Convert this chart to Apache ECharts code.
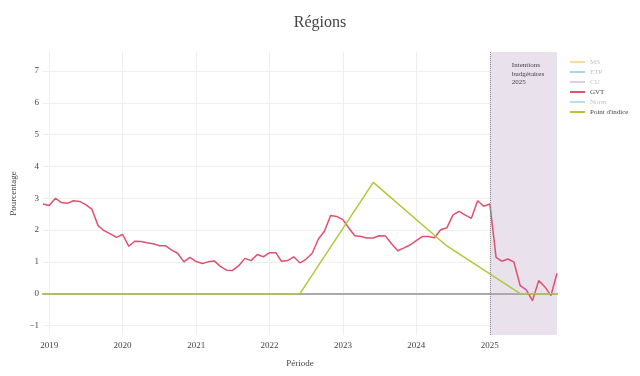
<!DOCTYPE html>
<html lang="fr">
<head>
<meta charset="UTF-8">
<title>Régions</title>
<script src="https://cdn.jsdelivr.net/npm/echarts@6/dist/echarts.min.js"></script>
</head>
<body style="margin:0;background:#fff;">
<div id="main" style="width:640px;height:376px;"></div>
<script>
// series GVT, monthly from 2018-12 to 2025-12
var firstMonth = [2018, 12];
var gvt = [
  2.82,
  2.77, 3.00, 2.87, 2.84, 2.92, 2.90, 2.80, 2.66, 2.14, 1.98, 1.88, 1.77,
  1.86, 1.49, 1.65, 1.64, 1.60, 1.57, 1.51, 1.51, 1.37, 1.27, 1.00, 1.14,
  1.01, 0.95, 1.00, 1.03, 0.86, 0.74, 0.73, 0.88, 1.11, 1.04, 1.23, 1.16,
  1.29, 1.29, 1.02, 1.04, 1.16, 0.97, 1.08, 1.27, 1.72, 1.96, 2.46, 2.43,
  2.33, 2.05, 1.82, 1.80, 1.75, 1.75, 1.82, 1.81, 1.56, 1.35, 1.44, 1.53,
  1.67, 1.80, 1.80, 1.76, 2.01, 2.07, 2.47, 2.59, 2.47, 2.37, 2.92, 2.75,
  2.82, 1.14, 1.02, 1.09, 0.99, 0.25, 0.12, -0.22, 0.41, 0.22, -0.06, 0.64
];
var pointDates = ['2018-12-01', '2019-06-01', '2020-06-01', '2021-06-01', '2022-06-01',
                  '2023-06-01', '2024-06-01', '2025-06-01', '2025-12-01'];
var pointIndice = [0, 0, 0, 0, 0, 3.5, 1.5, 0, 0];
var hiddenSeries = ['MS', 'ETP', 'CU', 'Norm'];
var legendOrder = ['MS', 'ETP', 'CU', 'GVT', 'Norm', "Point d'indice"];
var budgetStart = '2025-01-01';
var budgetEnd = '2025-12-01';
var xMin = '2018-12-01';
var xMax = '2025-12-01';

var months = [];
for (var i = 0; i < gvt.length; i++) {
  var y = firstMonth[0] + Math.floor((firstMonth[1] - 1 + i) / 12);
  var m = (firstMonth[1] - 1 + i) % 12 + 1;
  months.push(y + '-' + (m < 10 ? '0' + m : m) + '-01');
}

var serif = 'Liberation Serif, Times New Roman, serif';
var fadedColor = {MS: '#f7dba6', ETP: '#a9d3ee', CU: '#ddd0e3', Norm: '#b6e0ee'};

var chart = echarts.init(document.getElementById('main'));

var series = [];
legendOrder.forEach(function (name) {
  if (hiddenSeries.indexOf(name) >= 0) {
    series.push({name: name, type: 'line', data: [], color: fadedColor[name]});
  } else if (name === 'GVT') {
    series.push({
      name: 'GVT', type: 'line', color: '#e0506f', showSymbol: false, z: 3,
      lineStyle: {width: 1.5},
      data: months.map(function (d, k) { return [d, gvt[k]]; })
    });
  } else {
    series.push({
      name: name, type: 'line', color: '#aec93a', showSymbol: false, z: 4,
      lineStyle: {width: 1.5},
      data: pointDates.map(function (d, k) { return [d, pointIndice[k]]; }),
      markArea: {
        silent: true, z: 0,
        itemStyle: {color: '#e9e2ec'},
        label: {
          show: true, position: 'insideTopLeft', offset: [17, 4],
          formatter: 'Intentions\nbudgétaires\n2025',
          fontFamily: serif, fontSize: 7, lineHeight: 8.5, color: '#444'
        },
        data: [[{xAxis: budgetStart}, {xAxis: budgetEnd}]]
      },
      markLine: {
        silent: true, symbol: 'none',
        label: {show: false},
        data: [
          {xAxis: budgetStart, lineStyle: {color: '#888', width: 1, type: 'dotted'}}
        ]
      }
    });
  }
});

var axisFont = {fontFamily: serif, fontSize: 9, color: '#444'};

var option = {
  backgroundColor: '#fff',
  animation: false,
  title: {
    text: 'Régions', left: 'center', top: 10,
    textStyle: {fontFamily: serif, fontSize: 16, fontWeight: 'normal', color: '#444'}
  },
  legend: {
    orient: 'vertical', left: 565, top: 52,
    icon: 'rect', itemWidth: 15, itemHeight: 2, itemGap: 0,
    selectedMode: false,
    textStyle: {fontFamily: serif, fontSize: 7, lineHeight: 10, color: '#444'},
    data: legendOrder.map(function (n) {
      return hiddenSeries.indexOf(n) >= 0 ? {name: n, textStyle: {color: '#c4c4c4'}} : {name: n};
    })
  },
  grid: {left: 43, right: 83, top: 52, bottom: 41},
  xAxis: [{
    type: 'time',
    min: xMin, max: xMax,
    name: 'Période', nameLocation: 'middle', nameGap: 24,
    nameTextStyle: axisFont,
    axisLine: {show: false, onZero: false}, axisTick: {show: false},
    splitNumber: 7,
    minInterval: 365 * 24 * 3600 * 1000,
    axisLabel: {
      fontFamily: serif, fontSize: 9, color: '#444', margin: 6,
      showMinLabel: false, showMaxLabel: false,
      formatter: function (v) {
        var d = new Date(v);
        return (d.getMonth() === 0 && d.getDate() === 1) ? String(d.getFullYear()) : '';
      }
    },
    splitLine: {show: true, showMinLine: false, showMaxLine: false,
                lineStyle: {color: '#eeeeee', width: 1}}
  }, {
    // zero line, drawn under the series
    type: 'time', min: xMin, max: xMax, position: 'bottom',
    axisLine: {show: true, onZero: true, lineStyle: {color: '#aaaaaa', width: 2}},
    axisTick: {show: false}, axisLabel: {show: false}, splitLine: {show: false}
  }],
  yAxis: {
    type: 'value', min: -1.3, max: 7.6, splitNumber: 9,
    name: 'Pourcentage', nameLocation: 'middle', nameGap: 24, nameRotate: 90,
    nameTextStyle: axisFont,
    axisLine: {show: false}, axisTick: {show: false},
    axisLabel: {
      fontFamily: serif, fontSize: 9, color: '#444', margin: 4,
      showMinLabel: false, showMaxLabel: false,
      formatter: function (v) { return v < 0 ? '\u2212' + Math.abs(v) : String(v); }
    },
    splitLine: {showMinLine: false, showMaxLine: false,
                lineStyle: {color: '#eeeeee', width: 1}}
  },
  series: series
};

chart.setOption(option);
window.onresize = function () { chart.resize(); };
</script>
</body>
</html>
